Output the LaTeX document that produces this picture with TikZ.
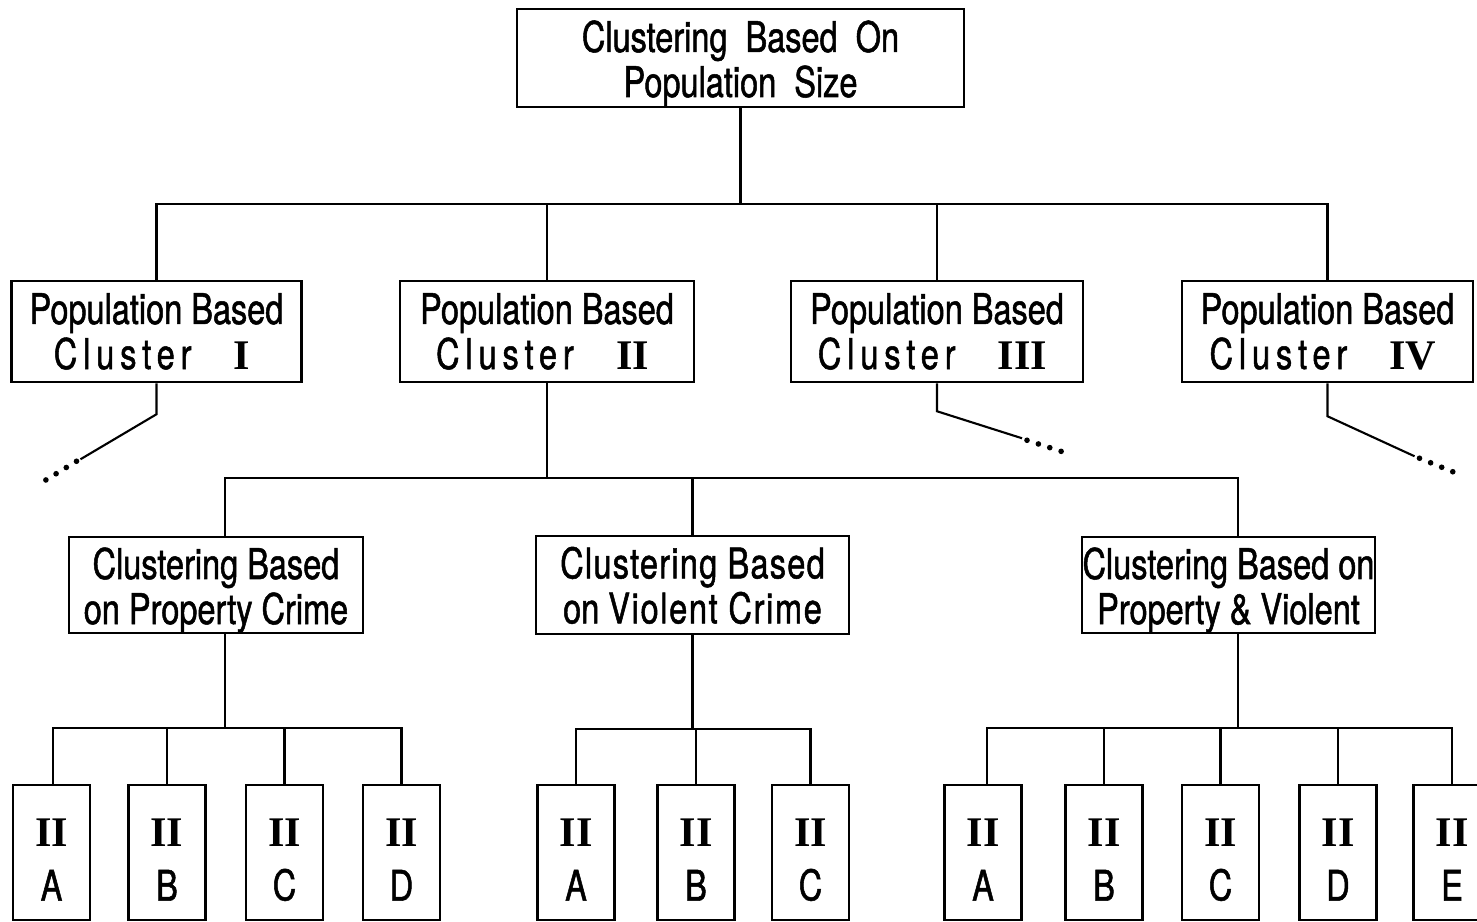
\documentclass[tikz,border=0pt]{standalone}
\usepackage{fontspec}
\setmainfont[FakeStretch=0.77,FakeBold=1.2]{TeX Gyre Heros}
\newfontfamily\romfont{Liberation Serif}
\newcommand{\rnum}[1]{{\romfont\bfseries #1}}
\newcommand{\spaced}[1]{{\addfontfeature{LetterSpace=14}#1}}
\tikzset{
	box/.style={draw, line width=0.7pt, inner sep=0pt, align=center, font=\fontsize{12}{12.8}\selectfont},
	leaf/.style={draw, line width=0.7pt, inner sep=0pt, align=center, minimum width=0.77cm, minimum height=1.35cm, font=\fontsize{12}{15.4}\selectfont},
	link/.style={line width=0.6pt},
	dots/.style={line width=1.6pt, line cap=round, dash pattern=on 0pt off 3.4pt}
}
\begin{document}
\begin{tikzpicture}[x=0.01cm,y=-0.01cm]
\useasboundingbox (0,0) rectangle (1477,922);
%top box
 \node[box, minimum width=4.47cm, minimum height=0.98cm] (top) at (740.5,58) {\rule{0pt}{12pt}Clustering \ Based \ On\\Population \ Size};
%population clusters
	\node[box, minimum width=2.9cm, minimum height=1.01cm] (pop1) at (156.5,331.5) {Population Based\\\spaced{Cluster}\quad\rnum{I}\ \ }; %cluster I
	\node[box, minimum width=2.94cm, minimum height=1.01cm] (pop2) at (547,331.5) {Population Based\\\spaced{Cluster}\quad\rnum{II}\ \ }; %cluster II
	\node[box, minimum width=2.92cm, minimum height=1.01cm] (pop3) at (937,331.5) {Population Based\\\spaced{Cluster}\quad\rnum{III}\ \ }; %cluster III
	\node[box, minimum width=2.91cm, minimum height=1.01cm] (pop4) at (1327.5,331.5) {Population Based\\\spaced{Cluster}\quad\rnum{IV}\ \ }; %cluster IV
	
	\draw[link] (top.south) -- ++(0,96) coordinate (bar1);
	\foreach \n in {pop1,pop2,pop3,pop4}
		\draw[link] (\n.north) |- (bar1);
	
	%loose ends
	\draw[link] (pop1.south) -- ++(0,31) -- ++(-76,45) coordinate (end1);
	\draw[dots] (end1) ++(-4,2) -- ++(-36,22);
	\draw[link] (pop3.south) -- ++(0,28) -- ++(85,27) coordinate (end3);
	\draw[dots] (end3) ++(5,2) -- ++(40,13);
	\draw[link] (pop4.south) -- ++(0,33) -- ++(87,40) coordinate (end4);
	\draw[dots] (end4) ++(5,2) -- ++(37,15);
%crime clusters
	\node[box, minimum width=2.94cm, minimum height=0.96cm] (prop) at (216,585) {\rule{0pt}{12pt}Clustering Based\\on Property Crime}; %property
	\node[box, minimum width=3.13cm, minimum height=0.96cm] (viol) at (692.5,585) {\rule{0pt}{12pt}{\addfontfeature{LetterSpace=3}Clustering Based}\\on {\addfontfeature{LetterSpace=4}Violent Crime}\rule[-3pt]{0pt}{3pt}}; %violent
	\node[box, minimum width=2.93cm, minimum height=0.96cm] (both) at (1228.5,585) {\rule{0pt}{12pt}Clustering Based on\\Property \& Violent}; %both
	
	\draw[link] (pop2.south) -- ++(0,95) coordinate (bar2);
	\draw[link] ([xshift=0.09cm]prop.north) |- (bar2);
	\draw[link] (viol.north) |- (bar2);
	\draw[link] ([xshift=0.095cm]both.north) |- (bar2);
%leaves
	%property
	\node[leaf] (pa) at (51.5,852.5) {\rule{0pt}{12pt}\rnum{II}\\A};
	\node[leaf] (pb) at (167,852.5) {\rule{0pt}{12pt}\rnum{II}\\B};
	\node[leaf] (pc) at (284.5,852.5) {\rule{0pt}{12pt}\rnum{II}\\C};
	\node[leaf] (pd) at (401.5,852.5) {\rule{0pt}{12pt}\rnum{II}\\D};
	\draw[link] ([xshift=0.09cm]prop.south) -- ++(0,94) coordinate (bar3);
	\draw[link] ([xshift=0.015cm]pa.north) |- (bar3);
	\foreach \n in {pb,pc,pd}
		\draw[link] (\n.north) |- (bar3);
	
	%violent
	\node[leaf] (va) at (576,852.5) {\rule{0pt}{12pt}\rnum{II}\\A};
	\node[leaf] (vb) at (696,852.5) {\rule{0pt}{12pt}\rnum{II}\\B};
	\node[leaf] (vc) at (810.5,852.5) {\rule{0pt}{12pt}\rnum{II}\\C};
	\draw[link] (viol.south) -- ++(0,94) coordinate (bar4);
	\foreach \n in {va,vb,vc}
		\draw[link] (\n.north) |- (bar4);
	
	%property and violent
	\node[leaf] (ba) at (983,852.5) {\rule{0pt}{12pt}\rnum{II}\\A};
	\node[leaf] (bb) at (1104,852.5) {\rule{0pt}{12pt}\rnum{II}\\B};
	\node[leaf] (bc) at (1220.5,852.5) {\rule{0pt}{12pt}\rnum{II}\\C};
	\node[leaf] (bd) at (1338,852.5) {\rule{0pt}{12pt}\rnum{II}\\D};
	\node[leaf] (be) at (1452,852.5) {\rule{0pt}{12pt}\rnum{II}\\E};
	\draw[link] ([xshift=0.095cm]both.south) -- ++(0,94) coordinate (bar5);
	\draw[link] ([xshift=0.04cm]ba.north) |- (bar5);
	\foreach \n in {bb,bc,bd,be}
		\draw[link] (\n.north) |- (bar5);
\end{tikzpicture}
\end{document}
